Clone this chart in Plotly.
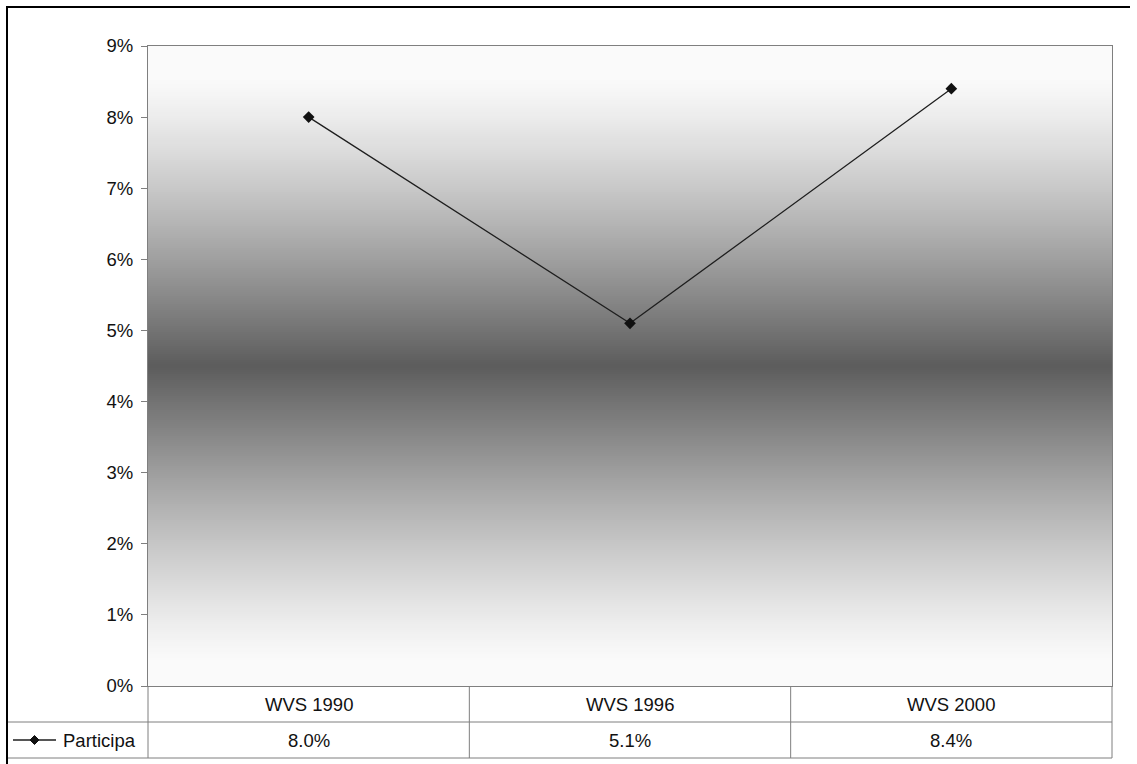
import plotly.graph_objects as go

categories = ["WVS 1990", "WVS 1996", "WVS 2000"]
participa = [8.0, 5.1, 8.4]
series_name = "Participa"
y_ticks = [0, 1, 2, 3, 4, 5, 6, 7, 8, 9]

W, H = 1137, 764
ML, MR, MT, MB = 148, 25, 46, 78
PW = W - ML - MR
PH = H - MT - MB

def px_x(px):
    return (px - ML) / PW

def px_y(py):
    return (H - MB - py) / PH

FONT = "Liberation Sans, Arial, sans-serif"
FS = 18.5
TXT = "#111111"
GRID = "#7f7f7f"

fig = go.Figure()
fig.add_trace(go.Scatter(
    x=categories, y=participa, mode="lines+markers", name=series_name,
    line=dict(color="#1e1e1e", width=1.3),
    marker=dict(symbol="diamond", size=9, color="#111111"),
    showlegend=False, cliponaxis=False,
))

shapes = []
# background gradient (horizon style): white top/bottom, dark middle
N = 320
DARK = 92
def shade(t):
    lo, mid, hi = 0.04, 0.5, 0.95
    if t <= lo or t >= hi:
        return 250
    if t < mid:
        f = (t - lo) / (mid - lo)
    else:
        f = (hi - t) / (hi - mid)
    f = f ** 1.2
    return round(250 - (250 - DARK) * f)

for i in range(N):
    t0 = i / N
    t1 = (i + 1) / N
    g = shade((t0 + t1) / 2)
    shapes.append(dict(type="rect", xref="paper", yref="paper",
                       x0=0, x1=1, y0=t0, y1=t1 + 0.0005,
                       fillcolor=f"rgb({g},{g},{g})", line=dict(width=0),
                       layer="below"))

def hline(x0, x1, y, color=GRID, width=1):
    shapes.append(dict(type="line", xref="paper", yref="paper",
                       x0=px_x(x0), x1=px_x(x1), y0=px_y(y), y1=px_y(y),
                       line=dict(color=color, width=width)))

def vline(x, y0, y1, color=GRID, width=1):
    shapes.append(dict(type="line", xref="paper", yref="paper",
                       x0=px_x(x), x1=px_x(x), y0=px_y(y0), y1=px_y(y1),
                       line=dict(color=color, width=width)))

# data table grid
ROW1_BOT = 722
ROW2_BOT = 758
hline(6, 1112, ROW1_BOT)
hline(6, 1112, ROW2_BOT)
vline(148, 686, ROW2_BOT)
vline(1112, 686, ROW2_BOT)
n = len(categories)
for k in range(1, n):
    xpx = ML + PW * k / n
    vline(xpx, 686, ROW2_BOT)

# outer frame (black)
hline(6, 1130, 7, color="#000000", width=2)
vline(7, 6, 764, color="#000000", width=2)

annotations = []
for c, v in zip(categories, participa):
    annotations.append(dict(x=c, xref="x", y=px_y((686 + ROW1_BOT) / 2), yref="paper",
                            text=c, showarrow=False, xanchor="center", yanchor="middle",
                            font=dict(family=FONT, size=FS, color=TXT)))
    annotations.append(dict(x=c, xref="x", y=px_y((ROW1_BOT + ROW2_BOT) / 2), yref="paper",
                            text=f"{v:.1f}%", showarrow=False, xanchor="center", yanchor="middle",
                            font=dict(family=FONT, size=FS, color=TXT)))

# legend key in table: line + diamond
KY = 740
shapes.append(dict(type="line", xref="paper", yref="paper",
                   x0=px_x(13), x1=px_x(56), y0=px_y(KY), y1=px_y(KY),
                   line=dict(color="#1e1e1e", width=1.3)))
cx, r = 34.5, 4.5
diamond = (f"M {px_x(cx - r)} {px_y(KY)} L {px_x(cx)} {px_y(KY - r)} "
           f"L {px_x(cx + r)} {px_y(KY)} L {px_x(cx)} {px_y(KY + r)} Z")
shapes.append(dict(type="path", xref="paper", yref="paper", path=diamond,
                   fillcolor="#111111", line=dict(color="#111111", width=1)))
annotations.append(dict(x=px_x(61), xref="paper", y=px_y(KY), yref="paper",
                        text=series_name, showarrow=False, xanchor="left", yanchor="middle",
                        font=dict(family=FONT, size=FS, color=TXT)))

fig.update_layout(
    width=W, height=H,
    margin=dict(l=ML, r=MR, t=MT, b=MB),
    paper_bgcolor="white", plot_bgcolor="rgba(0,0,0,0)",
    showlegend=False,
    shapes=shapes, annotations=annotations,
    xaxis=dict(type="category", range=[-0.5, n - 0.5], showticklabels=False,
               ticks="", showgrid=False, zeroline=False,
               showline=True, mirror=True, linecolor=GRID, linewidth=1),
    yaxis=dict(range=[0, 9], tickmode="array", tickvals=y_ticks,
               ticktext=[f"{v}%" for v in y_ticks],
               ticks="outside", ticklen=6, tickcolor=GRID, ticklabelstandoff=4,
               showgrid=False, zeroline=False,
               showline=True, mirror=True, linecolor=GRID, linewidth=1,
               tickfont=dict(family=FONT, size=FS, color=TXT)),
)

fig.write_html("out.html", config={"displayModeBar": False},
               post_script="document.body.style.margin='0px';")
